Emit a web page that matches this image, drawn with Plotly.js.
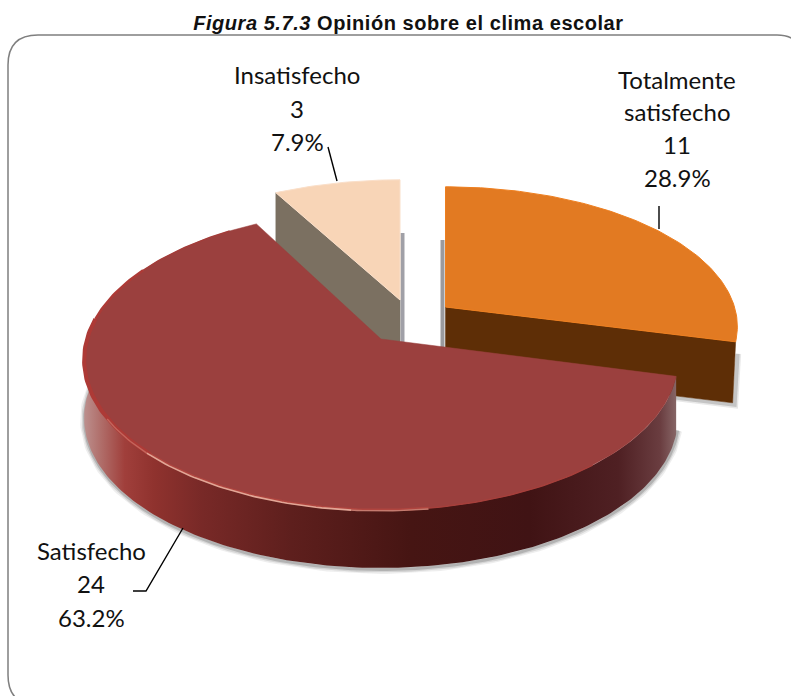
<!DOCTYPE html>
<html>
<head>
<meta charset="utf-8">
<script src="https://cdn.plot.ly/plotly-3.0.1.min.js"></script>
<style>
html,body{margin:0;padding:0;background:#fff}
#chart{width:791px;height:696px}
.annotation[data-index="10"] text{letter-spacing:0.55px}
</style>
</head>
<body>
<div id="chart"></div>
<script>
// --- data ---
const categories = ["Totalmente satisfecho", "Satisfecho", "Insatisfecho"];
const counts = [11, 24, 3];
const labelLines = [["Totalmente", "satisfecho"], ["Satisfecho"], ["Insatisfecho"]];
const titleItalic = "Figura 5.7.3";
const titleBold = " Opinión sobre el clima escolar";

// --- geometry of the projected pie (pixel scale of the axes) ---
const apexX = [445.5, 381, 400];
const apexY = [307, 339, 300];
const radiusX = [289, 294, 293];
const radiusY = [137, 147, 137];
const depth = [61, 58, 58];
const perspective = 0.14;
const labelX = [677, 91, 297];
const labelY = [[79, 111, 144, 177], [550, 583, 617], [74, 108, 141]];

// --- styles ---
const topColor = ["#e27a22", "#9b403e", "#f8d5b7"];
const rimColor = ["#ee7f1f", "#ad3a36", "#fadfc9"];
const sideColor = ["#5e2e06", "#6b2422", "#7b7061"];
const textColor = "#111111";
const labelFont = "Lato, Carlito, Calibri, sans-serif";

const total = counts.reduce((a, b) => a + b, 0);
const spans = [];
counts.reduce((acc, c) => { spans.push([acc, acc + c / total * 360]); return acc + c / total * 360; }, 0);

function pt(i, deg, dy) {
  const t = deg * Math.PI / 180, u = Math.sin(t), v = Math.cos(t), w = 1 + perspective * v;
  return [apexX[i] + radiusX[i] * u / w, apexY[i] - radiusY[i] * v / w + (dy || 0)];
}
function arc(i, a, b, dy) {
  const out = [], n = Math.max(2, Math.ceil(Math.abs(b - a)));
  for (let k = 0; k <= n; k++) out.push(pt(i, a + (b - a) * k / n, dy));
  return out;
}
function poly(points, extra) {
  return Object.assign({
    x: points.map(p => p[0]), y: points.map(p => p[1]),
    mode: "lines", type: "scatter", hoverinfo: "skip", showlegend: false,
    line: { width: 0 }
  }, extra);
}
function solid(points, color, lineColor, lw) {
  return poly(points, { fill: "toself", fillcolor: color, line: { color: lineColor || color, width: lw === undefined ? 0.5 : lw } });
}
function sector(i) {
  return [[apexX[i], apexY[i]]].concat(arc(i, spans[i][0], spans[i][1])).concat([[apexX[i], apexY[i]]]);
}
function cutFace(i, deg) {
  const a = [apexX[i], apexY[i]], c = pt(i, deg);
  return [a, c, [c[0], c[1] + depth[i]], [a[0], a[1] + depth[i]], a];
}

const traces = [];

// soft shadows beneath the slices
const redBottom = arc(1, spans[1][0] - 2, 280, depth[1]);
[[9, 0.10], [6, 0.16], [3, 0.28]].forEach(s => {
  traces.push(poly(redBottom.map(p => [p[0] + 0.5, p[1] + 1.5]), { line: { color: "rgba(90,90,90," + s[1] + ")", width: s[0] } }));
});
const orangeCorner = pt(0, spans[0][1]);
const orangeBottom = [[apexX[0], apexY[0] + depth[0]], [orangeCorner[0] - 3, orangeCorner[1] + depth[0]], [orangeCorner[0], orangeCorner[1] + 10]];
[[7, 0.14], [4, 0.25]].forEach(s => {
  traces.push(poly(orangeBottom.map(p => [p[0] + 2, p[1] + 2]), { line: { color: "rgba(90,90,90," + s[1] + ")", width: s[0] } }));
});
traces.push(poly([[apexX[0] - 3, 240], [apexX[0] - 3, apexY[0] + depth[0]]], { line: { color: "rgba(120,120,125,0.75)", width: 4 } }));
traces.push(poly([[apexX[2] + 2.5, 233], [apexX[2] + 2.5, apexY[2] + depth[2]]], { line: { color: "rgba(120,120,130,0.7)", width: 4 } }));

// Totalmente satisfecho
const orangeFace = cutFace(0, spans[0][1]);
orangeFace[2][0] -= 3;
traces.push(solid(orangeFace, sideColor[0]));
traces.push(solid(sector(0), topColor[0], rimColor[0], 1));

// Insatisfecho
traces.push(solid(cutFace(2, spans[2][0]), sideColor[2]));
traces.push(solid(sector(2), topColor[2], rimColor[2], 1));

// Satisfecho: curved wall with a left-to-right light falloff
const wall = arc(1, spans[1][0], 285).concat(arc(1, 285, spans[1][0], depth[1]));
wall.push(wall[0]);
traces.push(poly(wall, {
  fill: "toself",
  line: { width: 0, color: "rgba(0,0,0,0)" },
  fillgradient: {
    type: "horizontal",
    start: 83, stop: 678,
    colorscale: [
      [0, "#bd9290"], [0.03, "#b06e6a"], [0.07, "#a03f3b"], [0.12, "#8f322e"], [0.2, "#782927"],
      [0.35, "#5e1f1d"], [0.55, "#461513"], [0.75, "#401314"], [0.9, "#4f2023"],
      [0.97, "#6a3d40"], [1, "#8a6a6a"]
    ]
  }
}));
traces.push(solid(sector(1), topColor[1], topColor[1], 0.5));
// bevel along the rim of the top face
traces.push(poly(arc(1, 300, 325), { line: { color: "#a33c39", width: 1.5 } }));
traces.push(poly(arc(1, 278, 300), { line: { color: rimColor[1], width: 2.5 } }));
traces.push(poly(arc(1, 225, 278), { line: { color: rimColor[1], width: 4 } }));
traces.push(poly(arc(1, 172, 225), { line: { color: "#b0453f", width: 2.5 } }));
traces.push(poly(arc(1, 140, 172), { line: { color: "#a63f3b", width: 1.5 } }));
traces.push(poly(arc(1, 172, 185, 1), { line: { color: "#c47a6e", width: 1.4 } }));
traces.push(poly(arc(1, 185, 226, 1), { line: { color: "#e2a696", width: 1.6 } }));
traces.push(poly(arc(1, 226, 240, 1), { line: { color: "#c4655c", width: 1.4 } }));

// data labels, one annotation per line to keep the wide line pitch
const annotations = [];
categories.forEach((c, i) => {
  const lines = labelLines[i].concat([String(counts[i]), (counts[i] / total * 100).toFixed(1) + "%"]);
  lines.forEach((txt, k) => {
    annotations.push({
      x: labelX[i], y: labelY[i][k], xref: "x", yref: "y", text: txt, showarrow: false,
      xanchor: "center", yanchor: "middle",
      font: { family: labelFont, size: 24, color: textColor }
    });
  });
});
annotations.push({
  x: 408, y: 23, xref: "x", yref: "y", showarrow: false, xanchor: "center", yanchor: "middle",
  text: "<b><i>" + titleItalic + "</i>" + titleBold + "</b>",
  font: { family: "'Liberation Sans', Arial, sans-serif", size: 20, color: "#111111" }
});

const leader = { color: "#000000", width: 1.4 };
const layout = {
  width: 791, height: 696,
  margin: { l: 0, r: 0, t: 0, b: 0 },
  paper_bgcolor: "#ffffff", plot_bgcolor: "#ffffff",
  showlegend: false, hovermode: false,
  xaxis: { range: [0, 791], visible: false, fixedrange: true },
  yaxis: { range: [696, 0], visible: false, fixedrange: true },
  annotations: annotations,
  shapes: [
    { type: "path", layer: "below", xref: "x", yref: "y",
      path: "M 8 65 Q 8 35 38 35 L 777 35 Q 802 35 802 60 L 802 675 Q 802 705 772 705 L 38 705 Q 8 705 8 675 Z",
      line: { color: "#7f7f7f", width: 1.5 }, fillcolor: "rgba(0,0,0,0)" },
    { type: "line", xref: "x", yref: "y", x0: 328, y0: 147, x1: 337, y1: 181, line: leader },
    { type: "line", xref: "x", yref: "y", x0: 659, y0: 206, x1: 659, y1: 229, line: leader },
    { type: "path", xref: "x", yref: "y", path: "M 133 591 L 146 591 L 183 528", line: leader }
  ]
};
Plotly.newPlot("chart", traces, layout, { displayModeBar: false, staticPlot: true });
</script>
</body>
</html>
